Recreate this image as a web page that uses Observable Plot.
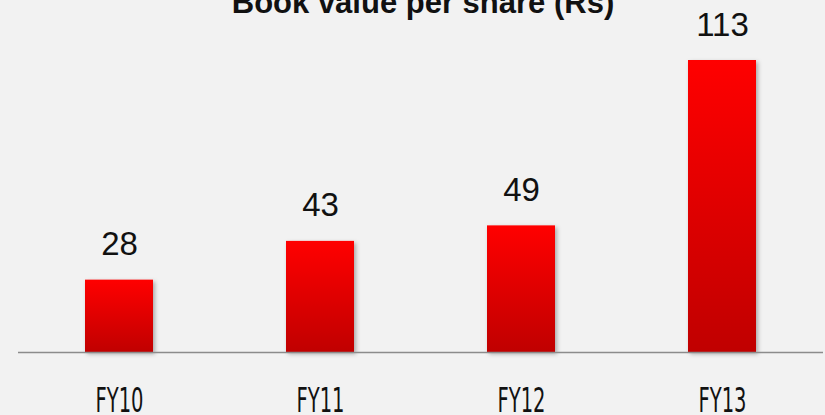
<!DOCTYPE html>
<html>
<head>
<meta charset="utf-8">
<script src="https://cdn.jsdelivr.net/npm/d3@7"></script>
<script src="https://cdn.jsdelivr.net/npm/@observablehq/plot@0.6"></script>
<style>
  html, body { margin: 0; padding: 0; background: #f2f2f2; }
  #chart { width: 825px; height: 415px; overflow: hidden; }
</style>
</head>
<body>
<div id="chart"></div>
<script>
const title = "Book value per share (Rs)";
const categories = ["FY10", "FY11", "FY12", "FY13"];
const values = [28, 43, 49, 113];

const data = categories.map((c, i) => ({ year: c, value: values[i] }));

const chart = Plot.plot({
  width: 825,
  height: 415,
  marginTop: 60,
  marginBottom: 63,
  marginLeft: 18,
  marginRight: 2,
  style: { background: "#f2f2f2", overflow: "visible" },
  x: { domain: categories, paddingInner: 0.66, paddingOuter: 0.33, axis: null },
  y: { domain: [0, 113], axis: null },
  marks: [
    Plot.barY(data, { x: "year", y: "value", fill: "url(#barGrad)" }),
    Plot.ruleY([0], { stroke: "#8c8c8c", strokeWidth: 1.6 }),
    Plot.text(data, {
      x: "year", y: "value", text: d => String(d.value),
      dy: -25, lineAnchor: "bottom",
      fontSize: 33, fill: "#111", fontFamily: "Liberation Sans"
    }),
    Plot.text(data, {
      x: "year", text: "year", frameAnchor: "bottom", dy: 59, lineAnchor: "bottom",
      fontSize: 34, fill: "#111", fontFamily: "DejaVu Sans", className: "fylabel"
    }),
    Plot.text([title], {
      text: d => d, frameAnchor: "top", dy: -48, lineAnchor: "bottom",
      fontSize: 31, fontWeight: "bold", fill: "#111", fontFamily: "Liberation Sans", dx: 2
    })
  ]
});

const svg = d3.select(chart);
const defs = svg.insert("defs", ":first-child");
const grad = defs.append("linearGradient").attr("id", "barGrad")
  .attr("x1", 0).attr("y1", 0).attr("x2", 0).attr("y2", 1);
grad.append("stop").attr("offset", "0%").attr("stop-color", "#ff0000");
grad.append("stop").attr("offset", "100%").attr("stop-color", "#c00000");
const f = defs.append("filter").attr("id", "shadow")
  .attr("x", "-20%").attr("y", "-20%").attr("width", "150%").attr("height", "150%");
f.append("feDropShadow").attr("dx", 2).attr("dy", 2).attr("stdDeviation", 2)
  .attr("flood-color", "#000").attr("flood-opacity", 0.3);
svg.selectAll("rect").filter(function () { return this.getAttribute("fill") === "url(#barGrad)" || this.parentNode.getAttribute("fill") === "url(#barGrad)"; })
  .attr("filter", "url(#shadow)");
svg.selectAll(".fylabel text").attr("textLength", 48).attr("lengthAdjust", "spacingAndGlyphs");

document.getElementById("chart").appendChild(chart);
</script>
</body>
</html>
